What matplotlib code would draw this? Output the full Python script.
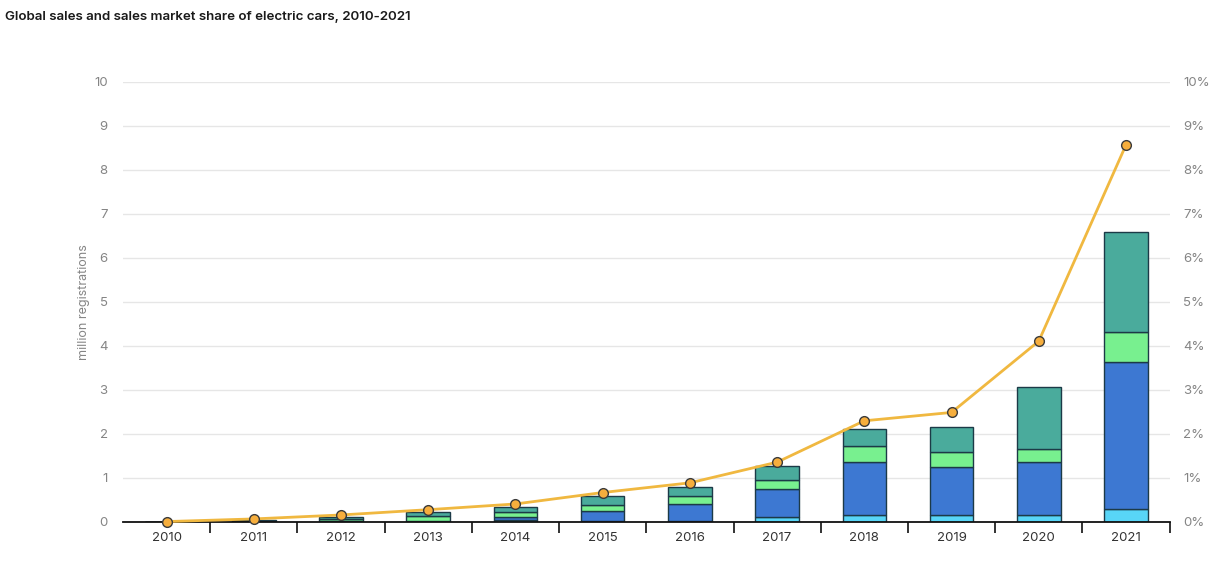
import matplotlib
matplotlib.use("Agg")
import matplotlib.pyplot as plt
import numpy as np

plt.rcParams["font.family"] = ["Inter", "DejaVu Sans"]

years = ["2010", "2011", "2012", "2013", "2014", "2015", "2016", "2017", "2018", "2019", "2020", "2021"]
# stacked series (million registrations), bottom to top
other = [0.001, 0.003, 0.005, 0.01, 0.045, 0.03, 0.03, 0.11, 0.17, 0.15, 0.15, 0.30]
china = [0.001, 0.005, 0.015, 0.02, 0.065, 0.21, 0.37, 0.63, 1.19, 1.09, 1.21, 3.34]
usa = [0.002, 0.02, 0.05, 0.11, 0.115, 0.14, 0.18, 0.21, 0.36, 0.34, 0.29, 0.67]
europe = [0.002, 0.02, 0.04, 0.08, 0.105, 0.21, 0.21, 0.32, 0.39, 0.59, 1.42, 2.27]
share = [0.01, 0.07, 0.16, 0.28, 0.41, 0.67, 0.89, 1.36, 2.30, 2.49, 4.11, 8.57]

series = [other, china, usa, europe]
colors = ["#58d5f7", "#3d78d2", "#78f08f", "#4aab9c"]

fig = plt.figure(figsize=(12.19, 5.63), dpi=100)
ax = fig.add_axes([123 / 1219, 41 / 563, (1169.6 - 123) / 1219, 440 / 563])
x = np.arange(len(years))

bottom = np.zeros(len(years))
for vals, c in zip(series, colors):
    v = np.array(vals)
    ax.bar(x, v, bottom=bottom, width=0.5, color=c, edgecolor="#1c3a47", linewidth=1.0, zorder=2)
    bottom += v

ax.set_xlim(-0.5, len(years) - 0.5)
ax.set_ylim(0, 10)
ax.set_yticks(range(0, 11))
ax.grid(axis="y", color="#e6e6e6", linewidth=1, zorder=0)
ax.set_axisbelow(True)
for s in ["left", "right", "top"]:
    ax.spines[s].set_visible(False)
ax.spines["bottom"].set_color("#111111")
ax.spines["bottom"].set_linewidth(1.3)
ax.tick_params(axis="y", length=0, pad=11, labelsize=9.5, labelcolor="#858585")
ax.set_xticks(x)
ax.set_xticklabels(years)
ax.tick_params(axis="x", length=0, pad=7, labelsize=9.5, labelcolor="#333333")
ax.set_xticks(np.arange(0.5, len(years) + 0.5, 1.0), minor=True)
ax.tick_params(axis="x", which="minor", length=8, width=1.2, color="#111111")
ax.set_ylabel("million registrations", fontsize=9, color="#858585", va="center")
ax.yaxis.set_label_coords((83.5 - 123) / 1046.6, 0.5)

ax2 = ax.twinx()
ax2.set_ylim(0, 10)
ax2.set_yticks(range(0, 11))
ax2.set_yticklabels([f"{i}%" for i in range(0, 11)])
ax2.tick_params(axis="y", length=0, pad=10, labelsize=9.5, labelcolor="#858585")
for s in ["left", "right", "top", "bottom"]:
    ax2.spines[s].set_visible(False)
ax2.plot(x, share, color="#f0b840", linewidth=2, marker="o", markersize=7,
         markerfacecolor="#f6ae3d", markeredgecolor="#3a3a3a", markeredgewidth=1, zorder=5,
         clip_on=False)

fig.text(5 / 1219, 1 - 17 / 563, "Global sales and sales market share of electric cars, 2010-2021",
         fontsize=9.6, fontweight="semibold", color="#1a1a1a", va="center", ha="left")

fig.savefig("out.png", dpi=100)
